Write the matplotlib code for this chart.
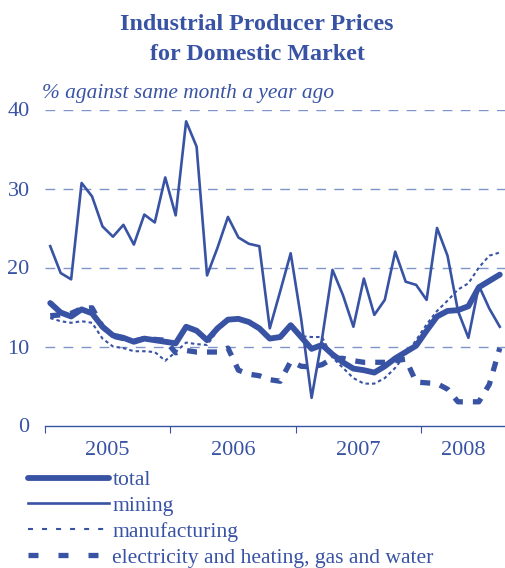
import matplotlib
matplotlib.use('Agg')
import matplotlib.pyplot as plt
from matplotlib.lines import Line2D
import numpy as np

plt.rcParams['font.family'] = ['Liberation Serif', 'DejaVu Serif']
plt.rcParams['lines.scale_dashes'] = False

# monthly values, Jan 2005 .. Aug 2008 (% against same month a year ago)
years = ['2005', '2006', '2007', '2008']

total = [15.5, 14.3, 13.8, 14.7, 14.2, 12.5, 11.4, 11.1, 10.6, 11.0, 10.8, 10.6,
         10.4, 12.5, 12.0, 10.8, 12.3, 13.4, 13.5, 13.1, 12.3, 11.0, 11.2, 12.7,
         11.2, 9.7, 10.2, 9.0, 8.0, 7.2, 7.0, 6.7, 7.5, 8.5, 9.3, 10.1,
         12.0, 13.8, 14.5, 14.6, 15.1, 17.5, 18.3, 19.1]

mining = [22.7, 19.3, 18.5, 30.7, 29.0, 25.2, 23.9, 25.4, 22.9, 26.7, 25.7, 31.4,
          26.6, 38.5, 35.3, 19.0, 22.5, 26.4, 23.8, 23.0, 22.7, 12.3, 17.0, 21.8,
          13.5, 3.5, 11.0, 19.7, 16.5, 12.5, 18.6, 14.0, 15.9, 22.0, 18.2, 17.8,
          15.9, 25.0, 21.5, 14.5, 11.1, 17.7, 14.8, 12.5]

manufacturing = [13.6, 13.2, 13.0, 13.2, 13.0, 11.0, 10.0, 9.8, 9.4, 9.4, 9.3, 8.2,
                 9.3, 10.5, 10.3, 10.2, 12.0, 13.2, 13.4, 13.0, 12.2, 11.2, 11.2, 12.6,
                 11.3, 11.2, 11.2, 8.6, 7.3, 6.0, 5.3, 5.3, 6.0, 7.3, 9.0, 10.8,
                 12.8, 14.5, 15.8, 17.2, 18.0, 20.0, 21.5, 21.9]

electricity = [13.9, 14.0, 14.2, 14.8, 14.9, 12.5, 11.3, 11.0, 10.7, 11.0, 10.9, 10.8,
               9.2, 9.5, 9.3, 9.3, 9.3, 9.8, 7.0, 6.5, 6.3, 5.8, 5.6, 8.1,
               7.5, 7.4, 7.7, 8.5, 8.5, 8.2, 8.0, 8.0, 8.0, 8.2, 8.4, 5.5,
               5.4, 5.3, 4.6, 3.0, 3.0, 3.0, 5.2, 9.8]

labels = ['total', 'mining', 'manufacturing', 'electricity and heating, gas and water']

blue = '#3953a4'
grid_blue = '#8094cc'

n = len(total)
x = np.arange(n) + 0.5

fig = plt.figure(figsize=(5.06, 5.68), dpi=100)
ax = fig.add_axes([45 / 506, 1 - 425.5 / 568, 460 / 506, 316 / 568])

ax.plot(x, electricity, color=blue, lw=3.8, ls=(0, (7.2, 7.2)))
ax.plot(x, manufacturing, color=blue, lw=1.5, ls=(0, (2.5, 2.2)))
ax.plot(x, mining, color=blue, lw=1.9, solid_joinstyle='round')
ax.plot(x, total, color=blue, lw=4.2, solid_joinstyle='round', solid_capstyle='round')

ax.set_xlim(0, n)
ax.set_ylim(0, 40)
ax.set_yticks([0, 10, 20, 30, 40])
for v in [10, 20, 30, 40]:
    ax.axhline(v, color=grid_blue, lw=1.0, ls=(0, (7, 6)), zorder=0)

ax.set_xticks([0, 12, 24, 36])
ax.set_xticklabels([])
ax.set_xticks([6, 18, 30, 40], minor=True)
ax.set_xticklabels(years, minor=True)
ax.tick_params(axis='x', which='major', length=5, color=blue, direction='out')
ax.tick_params(axis='x', which='minor', length=0, pad=11, labelsize=16, labelcolor=blue)
ax.tick_params(axis='y', length=0, pad=11, labelsize=16, labelcolor=blue)

for s in ['top', 'right', 'left']:
    ax.spines[s].set_visible(False)
ax.spines['bottom'].set_color(blue)
ax.spines['bottom'].set_linewidth(1.0)

fig.text(0.508, 1 - 24 / 568, 'Industrial Producer Prices', ha='center', va='center',
         fontsize=17.3, fontweight='bold', color=blue)
fig.text(0.508, 1 - 54 / 568, 'for Domestic Market', ha='center', va='center',
         fontsize=17.3, fontweight='bold', color=blue)
fig.text(42 / 506, 1 - 93 / 568, '% against same month a year ago', ha='left', va='center',
         fontsize=15.4, style='italic', color=blue)

# legend handles use the longer dash patterns shown in the original key
handles = [Line2D([], [], color=blue, lw=4.2, solid_capstyle='round'),
           Line2D([], [], color=blue, lw=1.9),
           Line2D([], [], color=blue, lw=1.5, ls=(0, (3.6, 6.5))),
           Line2D([], [], color=blue, lw=3.8, ls=(0, (7.2, 14.4)))]
leg = fig.legend(handles, labels, loc='upper left',
                 bbox_to_anchor=(28 / 506, 1 - 470 / 568), frameon=False,
                 handlelength=3.75, handletextpad=0.15, labelspacing=0.26,
                 fontsize=15.6, labelcolor=blue, borderaxespad=0, borderpad=0)

fig.savefig('out.png', dpi=100)
